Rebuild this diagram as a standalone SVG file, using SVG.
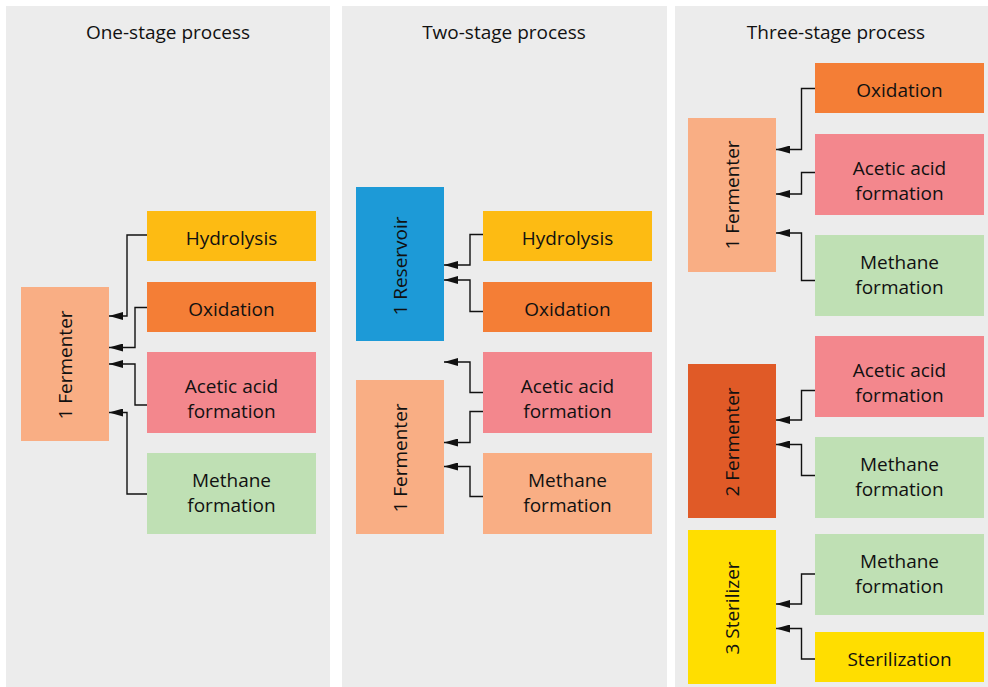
<svg xmlns="http://www.w3.org/2000/svg" width="988" height="687" viewBox="0 0 988 687">
<style>
.panel{fill:#ececec}
text{font-family:"Open Sans","Noto Sans","DejaVu Sans",sans-serif;font-size:19px;fill:#111111;text-anchor:middle}
.hyd{fill:#fdbb13}
.oxi{fill:#f47e36}
.ace{fill:#f3878d}
.met{fill:#bfe0b4}
.fer{fill:#f9ae84}
.res{fill:#1d9ad7}
.fer2{fill:#e05a27}
.ste{fill:#ffde00}
.conn path{fill:none;stroke:#111111;stroke-width:1.4;marker-end:url(#arr)}
</style>
<defs>
<marker id="arr" markerUnits="userSpaceOnUse" markerWidth="14" markerHeight="8" refX="14" refY="4" orient="auto">
<path d="M0,0 L14,4 L0,8 z" fill="#111111"/>
</marker>
</defs>
<rect width="988" height="687" fill="#ffffff"/>
<g id="panels">
<rect class="panel" x="6" y="6" width="324" height="681"/>
<rect class="panel" x="342" y="6" width="325" height="681"/>
<rect class="panel" x="675" y="6" width="313" height="681"/>
<text x="168" y="39">One-stage process</text>
<text x="504" y="39">Two-stage process</text>
<text x="836" y="39">Three-stage process</text>
</g>
<!-- Panel 1 -->
<g id="p1-fermenter"><rect class="fer" x="21" y="287" width="88" height="154"/><text transform="translate(71.5,365) rotate(-90)">1 Fermenter</text></g>
<g id="p1-hydrolysis"><rect class="hyd" x="147" y="211" width="169" height="50"/><text x="231.5" y="245">Hydrolysis</text></g>
<g id="p1-oxidation"><rect class="oxi" x="147" y="282" width="169" height="50"/><text x="231.5" y="316">Oxidation</text></g>
<g id="p1-acetic"><rect class="ace" x="147" y="352" width="169" height="81"/><text x="231.5" y="392.5">Acetic acid</text><text x="231.5" y="417.5">formation</text></g>
<g id="p1-methane"><rect class="met" x="147" y="453" width="169" height="81"/><text x="231.5" y="486.5">Methane</text><text x="231.5" y="511.5">formation</text></g>
<!-- Panel 2 -->
<g id="p2-reservoir"><rect class="res" x="356" y="187" width="88" height="154"/><text transform="translate(406.5,266) rotate(-90)">1 Reservoir</text></g>
<g id="p2-fermenter"><rect class="fer" x="356" y="380" width="88" height="154"/><text transform="translate(406.5,458) rotate(-90)">1 Fermenter</text></g>
<g id="p2-hydrolysis"><rect class="hyd" x="483" y="211" width="169" height="50"/><text x="567.5" y="245">Hydrolysis</text></g>
<g id="p2-oxidation"><rect class="oxi" x="483" y="282" width="169" height="50"/><text x="567.5" y="316">Oxidation</text></g>
<g id="p2-acetic"><rect class="ace" x="483" y="352" width="169" height="81"/><text x="567.5" y="392.5">Acetic acid</text><text x="567.5" y="417.5">formation</text></g>
<g id="p2-methane"><rect class="fer" x="483" y="453" width="169" height="81"/><text x="567.5" y="486.5">Methane</text><text x="567.5" y="511.5">formation</text></g>
<!-- Panel 3 -->
<g id="p3-fermenter1"><rect class="fer" x="688" y="118" width="88" height="154"/><text transform="translate(739,195) rotate(-90)">1 Fermenter</text></g>
<g id="p3-oxidation"><rect class="oxi" x="815" y="63" width="169" height="50"/><text x="899.5" y="97">Oxidation</text></g>
<g id="p3-acetic1"><rect class="ace" x="815" y="134" width="169" height="81"/><text x="899.5" y="174.5">Acetic acid</text><text x="899.5" y="199.5">formation</text></g>
<g id="p3-methane1"><rect class="met" x="815" y="235" width="169" height="81"/><text x="899.5" y="268.5">Methane</text><text x="899.5" y="293.5">formation</text></g>
<g id="p3-fermenter2"><rect class="fer2" x="688" y="364" width="88" height="154"/><text transform="translate(739,442) rotate(-90)">2 Fermenter</text></g>
<g id="p3-acetic2"><rect class="ace" x="815" y="336" width="169" height="81"/><text x="899.5" y="376.5">Acetic acid</text><text x="899.5" y="401.5">formation</text></g>
<g id="p3-methane2"><rect class="met" x="815" y="437" width="169" height="81"/><text x="899.5" y="470.5">Methane</text><text x="899.5" y="495.5">formation</text></g>
<g id="p3-sterilizer"><rect class="ste" x="688" y="530" width="88" height="154"/><text transform="translate(739,608) rotate(-90)">3 Sterilizer</text></g>
<g id="p3-methane3"><rect class="met" x="815" y="534" width="169" height="81"/><text x="899.5" y="567.5">Methane</text><text x="899.5" y="592.5">formation</text></g>
<g id="p3-sterilization"><rect class="ste" x="815" y="632" width="169" height="50"/><text x="899.5" y="666">Sterilization</text></g>
<!-- Connectors -->
<g id="connectors" class="conn">
<path d="M147,235 H127 V316 H109"/>
<path d="M147,307.5 H135 V347.5 H109"/>
<path d="M147,405 H135 V364 H109"/>
<path d="M147,494 H127 V412.5 H109"/>
<path d="M483,234.5 H470 V265 H444"/>
<path d="M483,311.5 H470 V280 H444"/>
<path d="M483,392.5 H470 V362 H444"/>
<path d="M483,411.5 H470 V442.5 H444"/>
<path d="M483,496.5 H470 V466.5 H444"/>
<path d="M815,88.5 H801.5 V149.5 H776"/>
<path d="M815,172.5 H801.5 V194 H776"/>
<path d="M815,280.5 H801.5 V233 H776"/>
<path d="M815,390.5 H801.5 V420 H776"/>
<path d="M815,475.5 H801.5 V444.5 H776"/>
<path d="M815,574 H801.5 V604 H776"/>
<path d="M815,659 H801.5 V628.5 H776"/>
</g>
</svg>
